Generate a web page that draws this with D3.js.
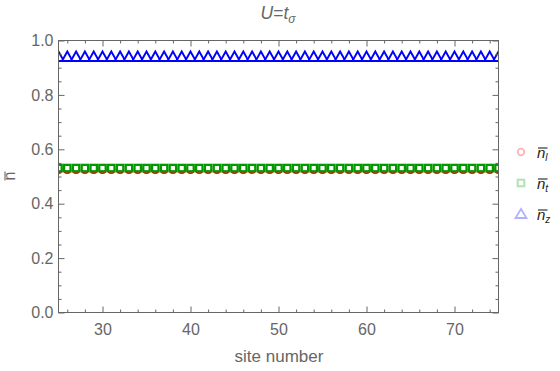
<!DOCTYPE html>
<html><head><meta charset="utf-8">
<script src="https://cdn.jsdelivr.net/npm/d3@7"></script>
<style>body{margin:0;background:#fff}text{font-family:"Liberation Sans",Arial,sans-serif}</style>
</head><body>
<script>
const sites = d3.range(25, 76);
const nL = sites.map(() => 0.524);
const nT = sites.map(() => 0.531);
const nZ = sites.map(() => 0.940);
const xTicks = [30, 40, 50, 60, 70];
const yTicks = [0, 0.2, 0.4, 0.6, 0.8, 1.0];
const seriesNames = ["l", "t", "z"];
const colors = ["#ff0000", "#009a00", "#0000ff"];

const W = 560, H = 371;
const m = {l: 58.5, r: 498.5, t: 40.5, b: 312.5};
const svg = d3.select("body").append("svg").attr("width", W).attr("height", H);
const x = d3.scaleLinear().domain([25, 75]).range([m.l, m.r]);
const y = d3.scaleLinear().domain([0, 1]).range([m.b, m.t]);
const axisColor = "#666";
const textColor = "#666";

svg.append("defs").append("clipPath").attr("id", "clip").append("rect")
  .attr("x", m.l).attr("y", m.t).attr("width", m.r - m.l).attr("height", m.b - m.t);

const xMinor = d3.range(26, 75, 2).filter(v => v % 10 !== 0);
const yMinor = d3.range(0.05, 1, 0.05).filter(v => Math.abs(v * 5 - Math.round(v * 5)) > 1e-6);

// markers
const plot = svg.append("g").attr("clip-path", "url(#clip)");
const circleR = 3.2, sq = 6.4;
function triPath(cx, cy, hw, up, down){
  return `M${cx},${cy - up}L${cx + hw},${cy + down}L${cx - hw},${cy + down}Z`;
}
plot.selectAll("circle.l").data(sites).join("circle")
  .attr("cx", (d) => x(d)).attr("cy", (d, i) => y(nL[i])).attr("r", circleR)
  .attr("fill", "#fff").attr("stroke", colors[0]).attr("stroke-width", 1.8);
plot.selectAll("rect.t").data(sites).join("rect")
  .attr("x", (d) => x(d) - sq/2).attr("y", (d, i) => y(nT[i]) - sq/2)
  .attr("width", sq).attr("height", sq)
  .attr("fill", "#fff").attr("stroke", colors[1]).attr("stroke-width", 2.3);
plot.selectAll("path.z").data(sites).join("path")
  .attr("d", (d, i) => triPath(x(d), y(nZ[i]), 5.3, 5.3, 4.2))
  .attr("fill", "#fff").attr("stroke", colors[2]).attr("stroke-width", 1.9);

svg.append("rect").attr("x", m.l).attr("y", m.t).attr("width", m.r - m.l).attr("height", m.b - m.t)
  .attr("fill", "none").attr("stroke", axisColor).attr("stroke-width", 1);

function styleAxis(g){ g.select(".domain").remove(); g.selectAll("line").attr("stroke", axisColor); g.selectAll("text").attr("fill", textColor).style("font-size","16px"); }
svg.append("g").attr("transform", `translate(0,${m.b})`)
  .call(d3.axisTop(x).tickValues(xTicks).tickSize(6).tickFormat("")).call(styleAxis);
svg.append("g").attr("transform", `translate(0,${m.b})`)
  .call(d3.axisBottom(x).tickValues(xTicks).tickSize(0).tickPadding(11).tickFormat(d3.format("d"))).call(styleAxis);
svg.append("g").attr("transform", `translate(0,${m.b})`)
  .call(d3.axisTop(x).tickValues(xMinor).tickSize(3).tickFormat("")).call(styleAxis);
svg.append("g").attr("transform", `translate(0,${m.t})`)
  .call(d3.axisBottom(x).tickValues(xTicks).tickSize(6).tickFormat("")).call(styleAxis);
svg.append("g").attr("transform", `translate(0,${m.t})`)
  .call(d3.axisBottom(x).tickValues(xMinor).tickSize(3).tickFormat("")).call(styleAxis);
svg.append("g").attr("transform", `translate(${m.l},0)`)
  .call(d3.axisRight(y).tickValues(yTicks).tickSize(6).tickFormat("")).call(styleAxis);
svg.append("g").attr("transform", `translate(${m.l},0)`)
  .call(d3.axisLeft(y).tickValues(yTicks).tickSize(0).tickPadding(5).tickFormat(d3.format(".1f"))).call(styleAxis);
svg.append("g").attr("transform", `translate(${m.l},0)`)
  .call(d3.axisRight(y).tickValues(yMinor).tickSize(3).tickFormat("")).call(styleAxis);
svg.append("g").attr("transform", `translate(${m.r},0)`)
  .call(d3.axisLeft(y).tickValues(yTicks).tickSize(6).tickFormat("")).call(styleAxis);
svg.append("g").attr("transform", `translate(${m.r},0)`)
  .call(d3.axisLeft(y).tickValues(yMinor).tickSize(3).tickFormat("")).call(styleAxis);

// title
const title = svg.append("text").attr("x", 278).attr("y", 19).attr("text-anchor", "middle")
  .attr("fill", textColor).style("font-size", "17.5px").style("font-style", "italic");
title.append("tspan").text("U");
title.append("tspan").style("font-style","normal").text("=");
title.append("tspan").text("t");
title.append("tspan").attr("dy", 4).style("font-size", "12px").text("σ");

// axis labels
svg.append("text").attr("x", 279).attr("y", 362).attr("text-anchor", "middle")
  .attr("fill", textColor).style("font-size", "17px").text("site number");
const yl = svg.append("g").attr("transform", "translate(15,176) rotate(-90)");
yl.append("text").attr("x", 0).attr("y", 0).attr("text-anchor", "middle")
  .attr("fill", textColor).style("font-size", "16px").text("n");
yl.append("line").attr("x1", -4.5).attr("x2", 4.5).attr("y1", -10).attr("y2", -10)
  .attr("stroke", textColor).attr("stroke-width", 1.1);

// legend
const leg = svg.append("g");
const legY = [152, 183, 214];
leg.append("circle").attr("cx", 521).attr("cy", legY[0]).attr("r", 3.3)
  .attr("fill", "none").attr("stroke", colors[0]).attr("stroke-opacity", 0.3).attr("stroke-width", 1.7);
leg.append("rect").attr("x", 521 - 3.3).attr("y", legY[1] - 3.3).attr("width", 6.6).attr("height", 6.6)
  .attr("fill", "none").attr("stroke", colors[1]).attr("stroke-opacity", 0.3).attr("stroke-width", 2);
leg.append("path").attr("d", triPath(521, legY[2], 5.5, 5, 4))
  .attr("fill", "none").attr("stroke", colors[2]).attr("stroke-opacity", 0.3).attr("stroke-width", 1.8);
seriesNames.forEach((s, i) => {
  const by = legY[i] + 5.5;
  const t = leg.append("text").attr("x", 537).attr("y", by).attr("fill", "#222").style("font-size", "15px").style("font-style", "italic");
  t.append("tspan").text("n");
  t.append("tspan").attr("dy", 3).style("font-size", "10px").text(s);
  leg.append("line").attr("x1", 538).attr("x2", 547.5).attr("y1", by - 9.5).attr("y2", by - 9.5)
    .attr("stroke", "#222").attr("stroke-width", 1.1);
});
</script>
</body></html>
